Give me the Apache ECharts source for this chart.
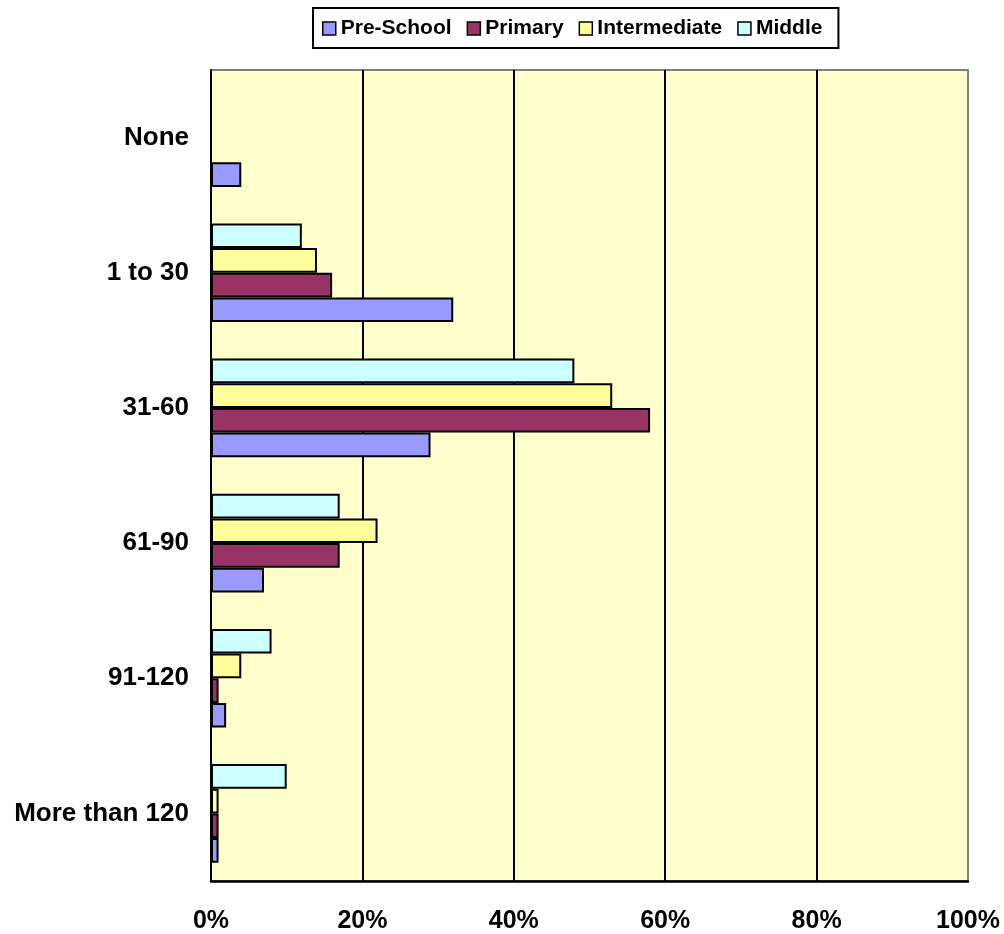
<!DOCTYPE html>
<html>
<head>
<meta charset="utf-8">
<script src="https://cdn.jsdelivr.net/npm/echarts@6/dist/echarts.min.js"></script>
<style>
html,body{margin:0;padding:0;background:#fff;}
#chart{width:1004px;height:934px;}
</style>
</head>
<body>
<div id="chart"></div>
<script>
var categories = ['None', '1 to 30', '31-60', '61-90', '91-120', 'More than 120'];
var seriesNames = ['Pre-School', 'Primary', 'Intermediate', 'Middle'];
var preSchool = [4, 32, 29, 7, 2, 1];
var primary = [0, 16, 58, 17, 1, 1];
var intermediate = [0, 14, 53, 22, 4, 1];
var middle = [0, 12, 48, 17, 8, 10];
var xTicks = [0, 20, 40, 60, 80, 100];
var colors = ['#9999FF', '#993366', '#FFFF99', '#CCFFFF'];
var values = [preSchool, primary, intermediate, middle];

var font = '"Liberation Sans", Arial, sans-serif';
var chart = echarts.init(document.getElementById('chart'));

// ECharts stacks horizontal bar groups top-down by series order,
// so add series in reverse to keep Pre-School at the bottom of each group.
var series = [];
for (var i = seriesNames.length - 1; i >= 0; i--) {
  series.push({
    name: seriesNames[i],
    type: 'bar',
    data: values[i],
    barGap: '0%',
    barCategoryGap: '27%',
    itemStyle: { color: colors[i], borderColor: '#000', borderWidth: 2 }
  });
}

chart.setOption({
  animation: false,
  legend: {
    data: seriesNames,
    left: 313,
    top: 8,
    padding: [10, 16, 9, 9],
    borderColor: '#000',
    borderWidth: 2,
    itemGap: 15,
    itemWidth: 13,
    itemHeight: 13,
    icon: 'rect',
    itemStyle: { borderColor: '#000', borderWidth: 1.5 },
    textStyle: { fontFamily: font, fontWeight: 'bold', fontSize: 21, color: '#000' }
  },
  grid: {
    left: 211, right: 36, top: 70, bottom: 53,
    show: true,
    backgroundColor: '#FFFFCC',
    borderColor: '#808080',
    borderWidth: 2
  },
  xAxis: {
    type: 'value',
    min: 0, max: 100, interval: 20,
    axisLine: { show: true, lineStyle: { color: '#000', width: 2.5 } },
    axisTick: { show: false },
    splitLine: { show: true, lineStyle: { color: ['#000', '#000', '#000', '#000', '#000', '#808080'], width: 2 } },
    axisLabel: {
      margin: 28,
      fontFamily: font, fontWeight: 'bold', fontSize: 25, color: '#000',
      formatter: function (v) { return xTicks.indexOf(v) >= 0 ? v + '%' : ''; }
    }
  },
  yAxis: {
    type: 'category',
    data: categories,
    inverse: true,
    axisLine: { show: true, lineStyle: { color: '#000', width: 2 } },
    axisTick: { show: false },
    axisLabel: { margin: 22, padding: [7, 0, 0, 0], fontFamily: font, fontWeight: 'bold', fontSize: 26, color: '#000' }
  },
  series: series
});
</script>
</body>
</html>
